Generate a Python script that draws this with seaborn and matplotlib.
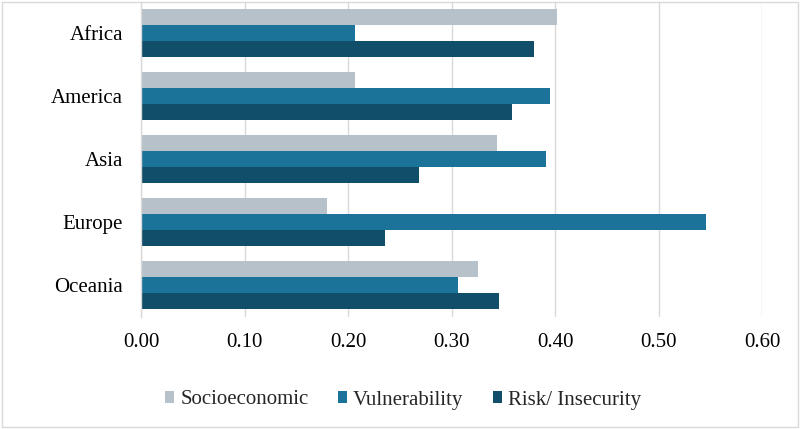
import matplotlib
matplotlib.use("Agg")
import matplotlib.pyplot as plt
import seaborn as sns
import pandas as pd
from matplotlib.patches import Rectangle

regions = ["Africa", "America", "Asia", "Europe", "Oceania"]
series = ["Socioeconomic", "Vulnerability", "Risk/ Insecurity"]
socioeconomic = [0.402, 0.207, 0.344, 0.180, 0.326]
vulnerability = [0.207, 0.395, 0.391, 0.546, 0.306]
risk = [0.380, 0.358, 0.269, 0.236, 0.346]
x_ticks = [0.0, 0.1, 0.2, 0.3, 0.4, 0.5, 0.6]
x_tick_labels = ["0.00", "0.10", "0.20", "0.30", "0.40", "0.50", "0.60"]
colors = ["#B7C1CA", "#1C7399", "#114E6A"]

rows = []
for name, vals in zip(series, [socioeconomic, vulnerability, risk]):
    for r, v in zip(regions, vals):
        rows.append({"Region": r, "Series": name, "Value": v})
df = pd.DataFrame(rows)

sns.set_theme(style="white")
fam = ["Liberation Serif", "DejaVu Serif"]
plt.rcParams["font.family"] = fam

fig = plt.figure(figsize=(8, 4.29), dpi=100)
ax = fig.add_axes([141 / 800, 1 - 316.8 / 429, (762 - 141) / 800, 315 / 429])

sns.barplot(data=df, y="Region", x="Value", hue="Series", order=regions,
            hue_order=series, palette=colors, orient="h", width=0.762,
            saturation=1, linewidth=0, errorbar=None, ax=ax, legend=True)

ax.set_xlim(0, 0.6)
ax.set_ylim(4.5, -0.5)
ax.set_xticks(x_ticks)
ax.set_xticklabels(x_tick_labels)
ax.set_xlabel("")
ax.set_ylabel("")
ax.grid(axis="x", color="#D9D9D9", linewidth=1)
ax.grid(axis="y", visible=False)
ax.set_axisbelow(True)
for s in ["top", "right", "bottom"]:
    ax.spines[s].set_visible(False)
ax.spines["left"].set_color("#D9D9D9")
ax.spines["left"].set_linewidth(1)
ax.tick_params(axis="x", length=0, pad=12, labelsize=15, colors="#000000")
ax.tick_params(axis="y", length=0, pad=13, labelsize=15, colors="#000000")
for lab in ax.get_xticklabels() + ax.get_yticklabels():
    lab.set_family(fam)

handles, labels = ax.get_legend_handles_labels()
ax.get_legend().remove()
fig.legend(handles, labels, loc="center", bbox_to_anchor=(403 / 800, 1 - 400 / 429),
           ncol=3, frameon=False, prop={"family": fam, "size": 15},
           handlelength=0.45, handleheight=0.45, handletextpad=0.3,
           columnspacing=1.4)

fig.patches.append(Rectangle((1.5 / 800, 2.5 / 429), 796.5 / 800, 425 / 429,
                             transform=fig.transFigure, fill=False,
                             edgecolor="#D9D9D9", linewidth=1))

fig.savefig("out.png", dpi=100)
